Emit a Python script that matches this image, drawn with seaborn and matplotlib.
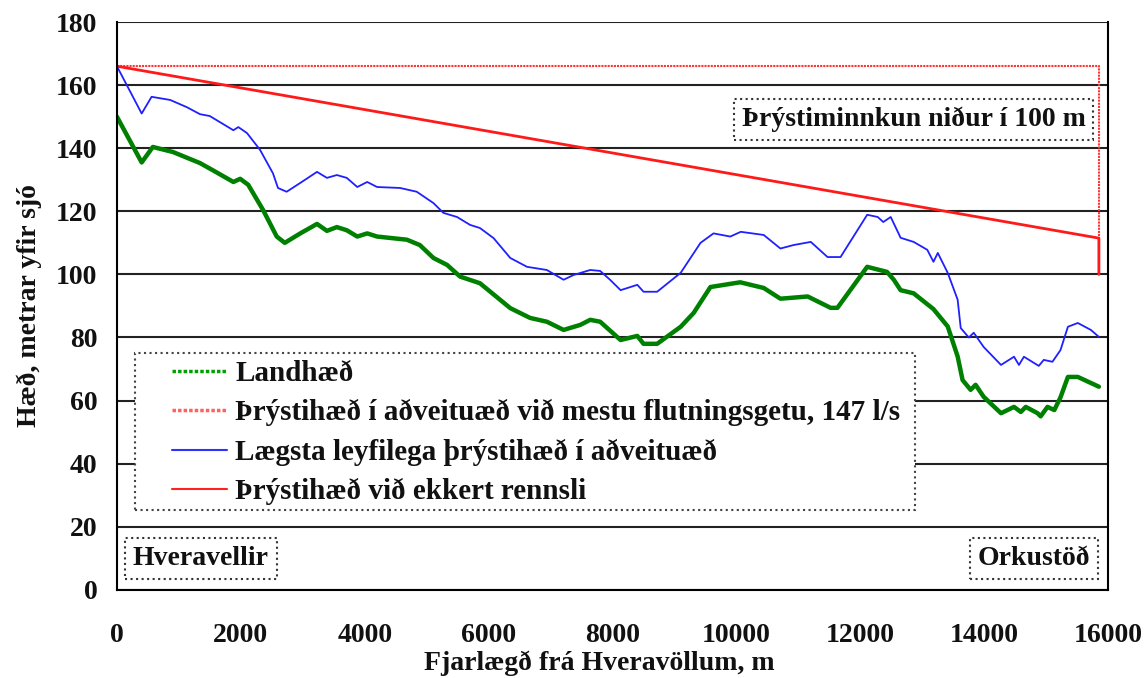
import matplotlib
matplotlib.use("Agg")
import matplotlib.pyplot as plt
from matplotlib.lines import Line2D
from matplotlib.patches import Rectangle
import seaborn as sns
import pandas as pd

# ---- data ----
green_x = [0, 400, 580, 905, 1340, 1550, 1880, 1990, 2120, 2360, 2580, 2710, 2960, 3230, 3390,
           3550, 3710, 3880, 4040, 4200, 4680, 4890, 5110, 5330, 5540, 5860, 6350, 6670, 6940,
           7210, 7480, 7640, 7800, 8130, 8400, 8500, 8720, 9100, 9310, 9580, 10060, 10440, 10710,
           11150, 11520, 11630, 12110, 12430, 12540, 12650, 12860, 13180, 13410, 13570, 13650,
           13780, 13860, 13990, 14270, 14480, 14590, 14670, 14860, 14910, 15020, 15130, 15230,
           15350, 15510, 15850]
green_y = [150, 135.5, 140.4, 138.8, 135.3, 133, 129.3, 130.3, 128.4, 120.4, 112, 110, 113, 116,
           113.8, 115, 114, 112, 113, 112, 111, 109.3, 105.2, 103, 99.3, 97.2, 89.3, 86.2, 85,
           82.4, 84, 85.6, 85, 79.2, 80.5, 78, 78, 83.4, 87.8, 96, 97.5, 95.7, 92.3, 93, 89.4,
           89.4, 102.4, 100.8, 98.3, 95, 94, 89, 83.5, 74, 66.5, 63.4, 65, 61.2, 56, 58, 56.4,
           58, 56, 55, 58, 57, 61, 67.5, 67.5, 64.4]

blue_x = [0, 400, 560, 860, 1130, 1340, 1500, 1880, 1960, 2100, 2310, 2520, 2600, 2740, 2960,
          3230, 3390, 3550, 3710, 3880, 4040, 4200, 4570, 4840, 5110, 5270, 5490, 5700, 5860,
          6080, 6350, 6620, 6940, 7210, 7370, 7640, 7800, 7960, 8130, 8400, 8500, 8720, 9100,
          9420, 9630, 9900, 10070, 10440, 10710, 10920, 11200, 11470, 11680, 12110, 12280,
          12370, 12490, 12650, 12860, 13080, 13180, 13250, 13410, 13570, 13620, 13750, 13830,
          13990, 14270, 14480, 14560, 14640, 14880, 14960, 15100, 15230, 15350, 15510, 15720,
          15850]
blue_y = [166, 151, 156.3, 155.3, 153, 150.8, 150.2, 145.7, 146.7, 144.8, 139.5, 132, 127.4,
          126.2, 129, 132.5, 130.6, 131.5, 130.6, 127.7, 129.3, 127.7, 127.4, 126.2, 122.6,
          119.5, 118.2, 115.7, 114.7, 111.5, 105.2, 102.4, 101.4, 98.3, 99.8, 101.4, 101.1,
          98.3, 95, 96.7, 94.5, 94.5, 100.5, 110, 113, 112, 113.5, 112.5, 108.2, 109.3, 110.3,
          105.5, 105.5, 118.9, 118.2, 116.6, 118.2, 111.6, 110.3, 107.8, 104, 106.8, 100.5, 92,
          83, 80, 81.5, 77, 71.3, 73.9, 71.3, 73.9, 71, 72.9, 72.3, 76, 83.4, 84.6, 82.4, 80.2]

maxflow_x = [0, 15850, 15850]
maxflow_y = [166, 166, 100]
noflow_x = [0, 15850, 15850]
noflow_y = [166, 111.5, 100]

labels = ["Landhæð",
          "Þrýstihæð í aðveituæð við mestu flutningsgetu, 147 l/s",
          "Lægsta leyfilega þrýstihæð í aðveituæð",
          "Þrýstihæð við ekkert rennsli"]
xticks = [0, 2000, 4000, 6000, 8000, 10000, 12000, 14000, 16000]
yticks = [0, 20, 40, 60, 80, 100, 120, 140, 160, 180]

# ---- style ----
sns.set_style("white")
plt.rcParams["font.family"] = ["Liberation Serif", "DejaVu Serif"]
plt.rcParams["font.weight"] = "bold"
FS = 20

fig = plt.figure(figsize=(11.46, 6.78), dpi=100)
ax = fig.add_axes([0.102, 0.130, 0.865, 0.8375])

for y in yticks:
    ax.axhline(y, color="#222222", lw=1.5, zorder=0)

sns.lineplot(x=maxflow_x, y=maxflow_y, ax=ax, color="#ff3333", lw=1.5,
             linestyle=(0, (1, 0.5)), sort=False, estimator=None)
sns.lineplot(x=noflow_x, y=noflow_y, ax=ax, color="#ff1a1a", lw=2.0,
             sort=False, estimator=None)
sns.lineplot(x=blue_x, y=blue_y, ax=ax, color="#2020ff", lw=1.3,
             sort=False, estimator=None)
sns.lineplot(x=green_x, y=green_y, ax=ax, color="#008000", lw=3.2,
             sort=False, estimator=None)

ax.set_xlim(0, 16000)
ax.set_ylim(0, 180)
ax.set_xticks(xticks)
ax.set_yticks(yticks)
ax.set_xticklabels([str(v) for v in xticks], fontsize=FS, fontweight="bold")
ax.set_yticklabels([str(v) for v in yticks], fontsize=FS, fontweight="bold")
ax.tick_params(axis="both", direction="out", length=7, width=1.3, color="black",
               labelcolor="#111111")
ax.tick_params(axis="y", pad=7)
ax.tick_params(axis="x", pad=17)
for s in ax.spines.values():
    s.set_color("black")
    s.set_linewidth(1.5)
ax.spines["top"].set_visible(False)

ax.set_xlabel("Fjarlægð frá Hveravöllum, m", fontsize=FS, fontweight="bold",
              color="#111111")
ax.xaxis.set_label_coords(0.487, -0.107)
ax.set_ylabel("Hæð, metrar yfir sjó", fontsize=FS, fontweight="bold",
              color="#111111", labelpad=10)

# legend frame drawn as a separate dotted rectangle
ax.add_patch(Rectangle((0.0182, 0.141), 0.787, 0.276, transform=ax.transAxes,
                       facecolor="white", edgecolor="#444444", lw=1.5,
                       linestyle=":", zorder=4))
handles = [Line2D([], [], color="#00a000", lw=2.5, linestyle=(0, (1, 0.6))),
           Line2D([], [], color="#ff6060", lw=2.5, linestyle=(0, (1, 0.6))),
           Line2D([], [], color="#3030ff", lw=1.5),
           Line2D([], [], color="#ff2020", lw=1.5)]
leg = ax.legend(handles, labels, loc="upper left", bbox_to_anchor=(0.0555, 0.405),
                prop={"size": 21, "weight": "bold"}, handlelength=1.9,
                labelspacing=0.42, borderpad=0, frameon=False,
                handletextpad=0.27, borderaxespad=0, labelcolor="#111111")
leg.set_zorder(5)

box = dict(boxstyle="square,pad=0.28", facecolor="white", edgecolor="#333333",
           linewidth=1.5, linestyle=":")
ax.text(0.977, 0.828, "Þrýstiminnkun niður í 100 m", transform=ax.transAxes,
        ha="right", va="center", fontsize=FS, fontweight="bold", bbox=box, color="#111111")
ax.text(0.016, 0.055, "Hveravellir", transform=ax.transAxes,
        ha="left", va="center", fontsize=FS, fontweight="bold", bbox=box, color="#111111")
ax.text(0.982, 0.055, "Orkustöð", transform=ax.transAxes,
        ha="right", va="center", fontsize=FS, fontweight="bold", bbox=box, color="#111111")

fig.savefig("out.png", dpi=100)
